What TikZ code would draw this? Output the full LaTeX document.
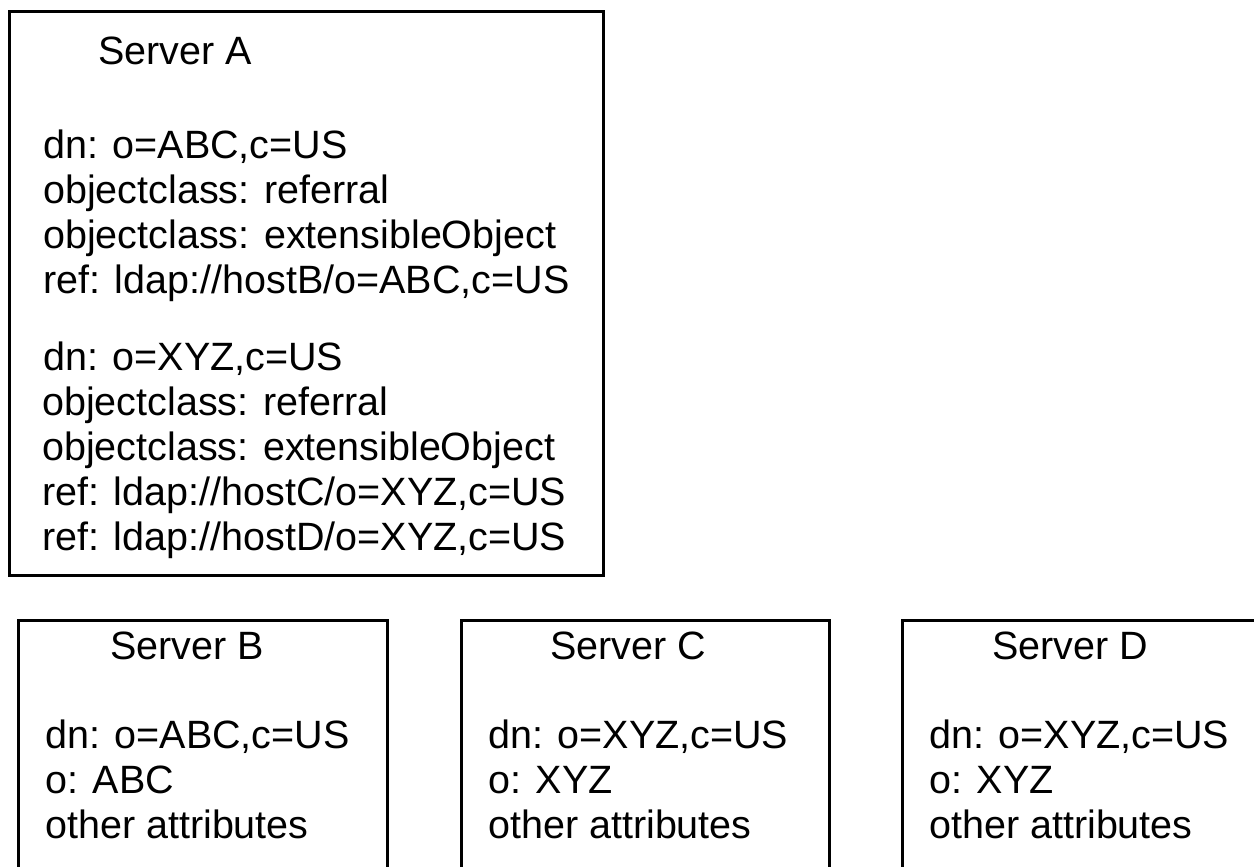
\documentclass[tikz,border=0pt]{standalone}
\usepackage{fontspec}
\setmainfont{Liberation Sans}
\begin{document}
\begin{tikzpicture}[x=1pt,y=-1pt,
  box/.style={draw=black,line width=3pt},
  txt/.style={anchor=base west,inner sep=0pt,font=\fontsize{39.5}{45}\selectfont}]
\useasboundingbox (0,0) rectangle (1254,867);
\begin{scope}
\clip (0,0) rectangle (1254,867);
\draw[box] (9.5,11.5) rectangle (603,575);
\draw[box] (18,880) -- (18,620) -- (387,620) -- (387,880);
\draw[box] (461,880) -- (461,620) -- (829,620) -- (829,880);
\draw[box] (902,880) -- (902,620) -- (1270,620) -- (1270,880);
\end{scope}
% Server A
\node[txt] (ta) at (98,65) {Server A};
\node[txt] (a1) at (43,158) {dn: o=ABC,c=US};
\node[txt] (a2) at (43,203) {objectclass: referral};
\node[txt] (a3) at (43,248) {objectclass: extensibleObject};
\node[txt] (a4) at (43,293) {ref: ldap://hostB/o=ABC,c=US};
\node[txt] (a5) at (43,370) {dn: o=XYZ,c=US};
\node[txt] (a6) at (42,415) {objectclass: referral};
\node[txt] (a7) at (42,460) {objectclass: extensibleObject};
\node[txt] (a8) at (42,505) {ref: ldap://hostC/o=XYZ,c=US};
\node[txt] (a9) at (42,550) {ref: ldap://hostD/o=XYZ,c=US};
% Server B
\node[txt] (tb) at (110,659) {Server B};
\node[txt] (b1) at (45,748) {dn: o=ABC,c=US};
\node[txt] (b2) at (45,793) {o: ABC};
\node[txt] (b3) at (45,838) {other attributes};
% Server C
\node[txt] (tc) at (550,659) {Server C};
\node[txt] (c1) at (488,748) {dn: o=XYZ,c=US};
\node[txt] (c2) at (488,793) {o: XYZ};
\node[txt] (c3) at (488,838) {other attributes};
% Server D
\node[txt] (td) at (992,659) {Server D};
\node[txt] (d1) at (929,748) {dn: o=XYZ,c=US};
\node[txt] (d2) at (929,793) {o: XYZ};
\node[txt] (d3) at (929,838) {other attributes};
\end{tikzpicture}
\end{document}
